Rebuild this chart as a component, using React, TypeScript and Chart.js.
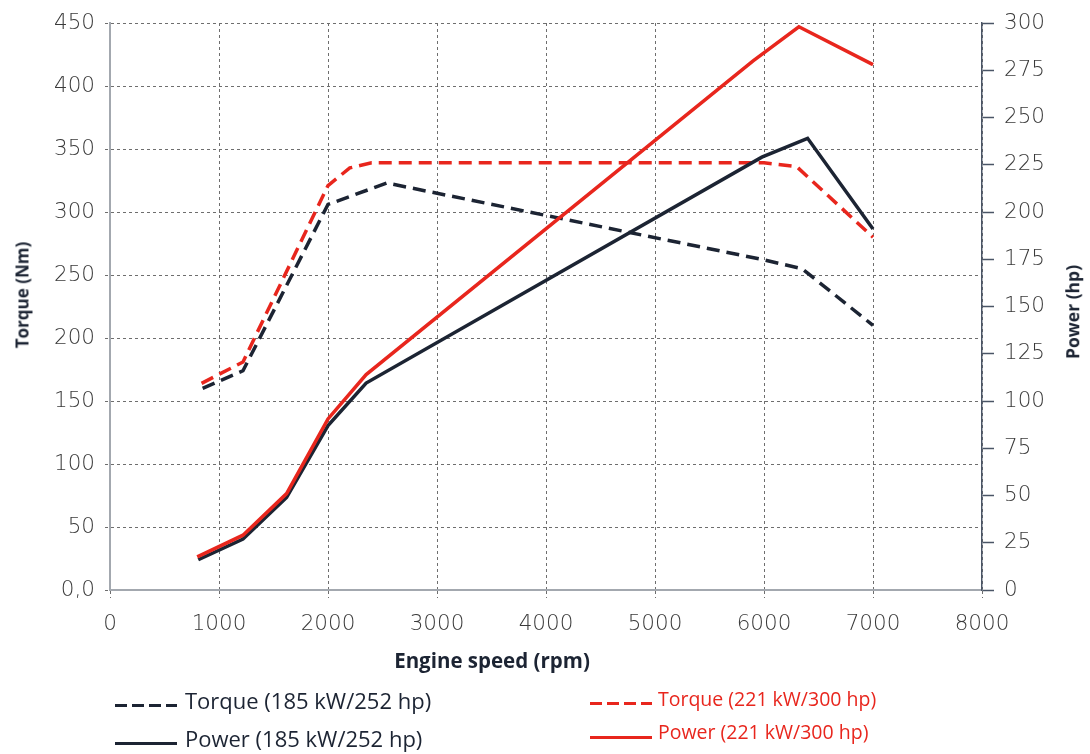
import React, { useEffect, useRef } from "react";
import Chart from "chart.js/auto";

// ---- Data ----
const torque185Rpm = [850, 1220, 2000, 2540, 6000, 6350, 7000];
const torque185Nm = [160, 174, 306, 323, 262, 255, 210];

const torque221Rpm = [840, 1220, 2000, 2200, 2400, 6000, 6300, 7000];
const torque221Nm = [164, 181, 321, 335, 339, 339, 336, 280];

const power185Rpm = [810, 1220, 1620, 2000, 2350, 5980, 6400, 7000];
const power185Hp = [16, 27, 49, 87, 109.5, 229, 239, 191];

const power221Rpm = [800, 1220, 1620, 2000, 2350, 5900, 6320, 7000];
const power221Hp = [17.5, 29, 51, 90.5, 114, 280, 298, 278];

const xTitle = "Engine speed (rpm)";
const yLeftTitle = "Torque (Nm)";
const yRightTitle = "Power (hp)";
const legendLabels = [
  "Torque (185 kW/252 hp)",
  "Power (185 kW/252 hp)",
  "Torque (221 kW/300 hp)",
  "Power (221 kW/300 hp)",
];

const NAVY = "#1c2433";
const RED = "#e8261d";
const GRID = "#6e6e6e";
const TICK_TEXT = "#3a3a3a";
const TICK_FONT = { family: "'DejaVu Sans'", size: 21.5, weight: 300 as any };

const pts = (xs: number[], ys: number[]) => xs.map((x, i) => ({ x, y: ys[i] }));

export default function App() {
  const ref = useRef<HTMLCanvasElement | null>(null);

  useEffect(() => {
    if (!ref.current) return;
    const chart = new Chart(ref.current, {
      type: "line",
      data: {
        datasets: [
          {
            label: legendLabels[3],
            data: pts(power221Rpm, power221Hp),
            yAxisID: "y1",
            borderColor: RED,
            borderWidth: 3.5,
            pointRadius: 0,
            tension: 0,
          },
          {
            label: legendLabels[1],
            data: pts(power185Rpm, power185Hp),
            yAxisID: "y1",
            borderColor: NAVY,
            borderWidth: 3.5,
            pointRadius: 0,
            tension: 0,
          },
          {
            label: legendLabels[0],
            data: pts(torque185Rpm, torque185Nm),
            yAxisID: "y",
            borderColor: NAVY,
            borderWidth: 3.5,
            borderDash: [13, 7],
            pointRadius: 0,
            tension: 0,
          },
          {
            label: legendLabels[2],
            data: pts(torque221Rpm, torque221Nm),
            yAxisID: "y",
            borderColor: RED,
            borderWidth: 3.5,
            borderDash: [13, 7],
            pointRadius: 0,
            tension: 0,
          },
        ],
      },
      options: {
        responsive: false,
        animation: false,
        devicePixelRatio: 1,
        layout: { padding: { top: 23, left: 0, right: 0, bottom: 0 } },
        plugins: { legend: { display: false }, tooltip: { enabled: false } },
        scales: {
          x: {
            type: "linear",
            min: 0,
            max: 8000,
            ticks: {
              stepSize: 1000,
              color: TICK_TEXT,
              font: TICK_FONT,
              padding: 14,
              maxRotation: 0,
              autoSkip: false,
              callback: (v: any) => String(v),
            },
            grid: {
              color: GRID,
              lineWidth: 1,
              tickLength: 8,
              tickColor: GRID,
              tickBorderDash: [3, 3],
            },
            border: { display: true, color: "#a3a8af", width: 2, dash: [3, 3] },
            afterFit: (s: any) => {
              s.height = 164;
            },
          },
          y: {
            position: "left",
            min: 0,
            max: 450,
            ticks: {
              stepSize: 50,
              color: TICK_TEXT,
              font: TICK_FONT,
              padding: 10,
              callback: (v: any) => (v === 0 ? "0,0" : String(v)),
            },
            grid: {
              color: GRID,
              lineWidth: 1,
              tickLength: 5,
              tickColor: GRID,
              tickBorderDash: [3, 3],
            },
            border: { display: true, color: "#a3a8af", width: 2, dash: [3, 3] },
            afterFit: (s: any) => {
              s.width = 110;
            },
          },
          y1: {
            position: "right",
            min: 0,
            max: 300,
            ticks: {
              stepSize: 25,
              color: TICK_TEXT,
              font: TICK_FONT,
              padding: 10,
              callback: (v: any) => String(v),
            },
            grid: {
              drawOnChartArea: false,
              tickLength: 12,
              tickColor: "#4a5566",
              tickWidth: 1.5,
            },
            border: { display: true, color: "#4a5566", width: 1.5 },
            afterFit: (s: any) => {
              s.width = 108;
            },
          },
        },
      },
    });
    return () => chart.destroy();
  }, []);

  const titleStyle: React.CSSProperties = {
    position: "absolute",
    fontFamily: "'Open Sans', sans-serif",
    fontWeight: 700,
    color: NAVY,
    whiteSpace: "nowrap",
    lineHeight: 1,
  };
  const legendText = (color: string, size: number): React.CSSProperties => ({
    position: "absolute",
    fontFamily: "'Open Sans', sans-serif",
    fontSize: size,
    color,
    whiteSpace: "nowrap",
    lineHeight: 1,
    transform: "translateY(-50%)",
  });
  const dashSample = (color: string, top: number, left: number): React.CSSProperties => ({
    position: "absolute",
    left,
    top: top - 1.5,
    width: 62,
    height: 3,
    background: `repeating-linear-gradient(to right, ${color} 0px, ${color} 12px, transparent 12px, transparent 17px)`,
  });
  const solidSample = (color: string, top: number, left: number): React.CSSProperties => ({
    position: "absolute",
    left,
    top: top - 1.5,
    width: 62,
    height: 3,
    background: color,
  });

  return (
    <div
      style={{
        position: "absolute",
        left: 0,
        top: 0,
        width: 1090,
        height: 754,
        overflow: "hidden",
        background: "#fff",
      }}
    >
      <canvas ref={ref} width={1090} height={754} style={{ display: "block" }} />
      <div
        style={{
          ...titleStyle,
          fontSize: 17,
          left: 22,
          top: 295,
          transform: "translate(-50%, -50%) rotate(-90deg)",
        }}
      >
        {yLeftTitle}
      </div>
      <div
        style={{
          ...titleStyle,
          fontSize: 17.5,
          left: 1073,
          top: 312,
          transform: "translate(-50%, -50%) rotate(-90deg)",
        }}
      >
        {yRightTitle}
      </div>
      <div
        style={{
          ...titleStyle,
          fontSize: 20.5,
          left: 492,
          top: 660,
          transform: "translate(-50%, -50%)",
        }}
      >
        {xTitle}
      </div>

      <div style={dashSample(NAVY, 705, 115)} />
      <div style={{ ...legendText(NAVY, 22), left: 185, top: 700 }}>{legendLabels[0]}</div>
      <div style={solidSample(NAVY, 743, 115)} />
      <div style={{ ...legendText(NAVY, 22), left: 185, top: 738 }}>{legendLabels[1]}</div>

      <div style={dashSample(RED, 703, 590)} />
      <div style={{ ...legendText(RED, 19.5), left: 658, top: 699 }}>{legendLabels[2]}</div>
      <div style={solidSample(RED, 737, 590)} />
      <div style={{ ...legendText(RED, 19.5), left: 658, top: 732 }}>{legendLabels[3]}</div>
    </div>
  );
}
